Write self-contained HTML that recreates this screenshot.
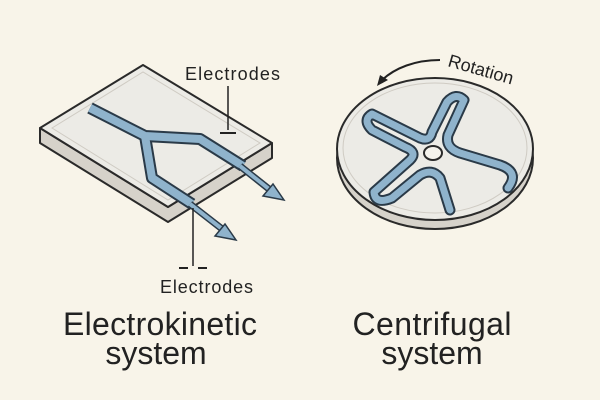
<!DOCTYPE html>
<html><head><style>
html,body{margin:0;padding:0;background:#f8f4e9;}
svg{display:block;font-family:"Liberation Sans",sans-serif;}
</style></head><body>
<svg width="600" height="400" viewBox="0 0 600 400">
<rect width="600" height="400" fill="#f8f4e9"/>
<!-- chip side -->
<polygon points="40,128 168,207 272,143 272,158 168,222 40,143" fill="#d6d2ca" stroke="#2a2a2a" stroke-width="2" stroke-linejoin="round"/>
<polygon points="40,128 143,65 272,143 168,207" fill="#ecebe6" stroke="#2a2a2a" stroke-width="2" stroke-linejoin="round"/>
<polygon points="52,128 143,72 260,143 168,200" fill="none" stroke="#cfcbc3" stroke-width="1"/>
<!-- channel -->
<g fill="none" stroke-linejoin="round">
<path d="M90,108 L145,136 L200,139 L243,166" stroke="#2a3a48" stroke-width="12"/>
<path d="M145,136 L152,178 L192,204" stroke="#2a3a48" stroke-width="12"/>
<path d="M90,108 L145,136 L200,139 L243,166" stroke="#8fb3cc" stroke-width="8"/>
<path d="M145,136 L152,178 L192,204" stroke="#8fb3cc" stroke-width="8"/>
</g>
<!-- arrows -->
<line x1="240" y1="166" x2="274" y2="193" stroke="#2a3a48" stroke-width="7"/>
<line x1="240" y1="166" x2="274" y2="193" stroke="#8fb3cc" stroke-width="4"/>
<polygon points="284,200 263,196 273,184" fill="#8fb3cc" stroke="#2a3a48" stroke-width="1.5"/>
<line x1="190" y1="204" x2="226" y2="232" stroke="#2a3a48" stroke-width="7"/>
<line x1="190" y1="204" x2="226" y2="232" stroke="#8fb3cc" stroke-width="4"/>
<polygon points="236,240 215,236 225,224" fill="#8fb3cc" stroke="#2a3a48" stroke-width="1.5"/>
<!-- electrodes -->
<text x="185" y="80" font-size="18" fill="#222" textLength="95">Electrodes</text>
<line x1="228" y1="86" x2="228" y2="130" stroke="#222" stroke-width="1.5"/>
<line x1="220" y1="133" x2="236" y2="133" stroke="#222" stroke-width="2"/>
<line x1="193" y1="208" x2="193" y2="266" stroke="#222" stroke-width="1.5"/>
<line x1="179" y1="268" x2="188" y2="268" stroke="#222" stroke-width="2"/>
<line x1="198" y1="268" x2="207" y2="268" stroke="#222" stroke-width="2"/>
<text x="160" y="293" font-size="18" fill="#222" textLength="93">Electrodes</text>
<!-- disk -->
<ellipse cx="435" cy="158" rx="98" ry="71" fill="#d6d2ca" stroke="#2a2a2a" stroke-width="2"/>
<ellipse cx="435" cy="149" rx="98" ry="71" fill="#ecebe6" stroke="#2a2a2a" stroke-width="2"/>
<ellipse cx="435" cy="148" rx="92" ry="65" fill="none" stroke="#cfcbc3" stroke-width="1"/>
<g fill="none" stroke-linecap="round" stroke-linejoin="round">
<path id="st" d="M450,210 L440,178 Q432,168 420,175 L392,198 Q375,205 374,192 L410,160 Q418,152 405,147 L372,130 Q362,120 372,114 L420,138 Q430,142 432,132 L447,102 Q456,92 464,100 L448,135 Q445,148 460,153 L500,165 Q520,172 508,188" stroke="#2a3a48" stroke-width="11"/>
<path d="M450,210 L440,178 Q432,168 420,175 L392,198 Q375,205 374,192 L410,160 Q418,152 405,147 L372,130 Q362,120 372,114 L420,138 Q430,142 432,132 L447,102 Q456,92 464,100 L448,135 Q445,148 460,153 L500,165 Q520,172 508,188" stroke="#8fb3cc" stroke-width="7"/>
</g>
<ellipse cx="433" cy="153" rx="9" ry="7" fill="#f4f2ec" stroke="#2a2a2a" stroke-width="2"/>
<!-- rotation -->
<path d="M440,60 C415,60 395,68 382,80" fill="none" stroke="#222" stroke-width="2"/>
<polygon points="377,86 380,75 388,80" fill="#222"/>
<text x="447" y="66" font-size="18" fill="#222" transform="rotate(16 447 66)">Rotation</text>
<!-- titles -->
<g font-size="32" fill="#222" text-anchor="middle">
<text x="160" y="335" textLength="194">Electrokinetic</text>
<text x="156" y="364">system</text>
<text x="432" y="335" textLength="159">Centrifugal</text>
<text x="432" y="364">system</text>
</g>
</svg>
</body></html>
